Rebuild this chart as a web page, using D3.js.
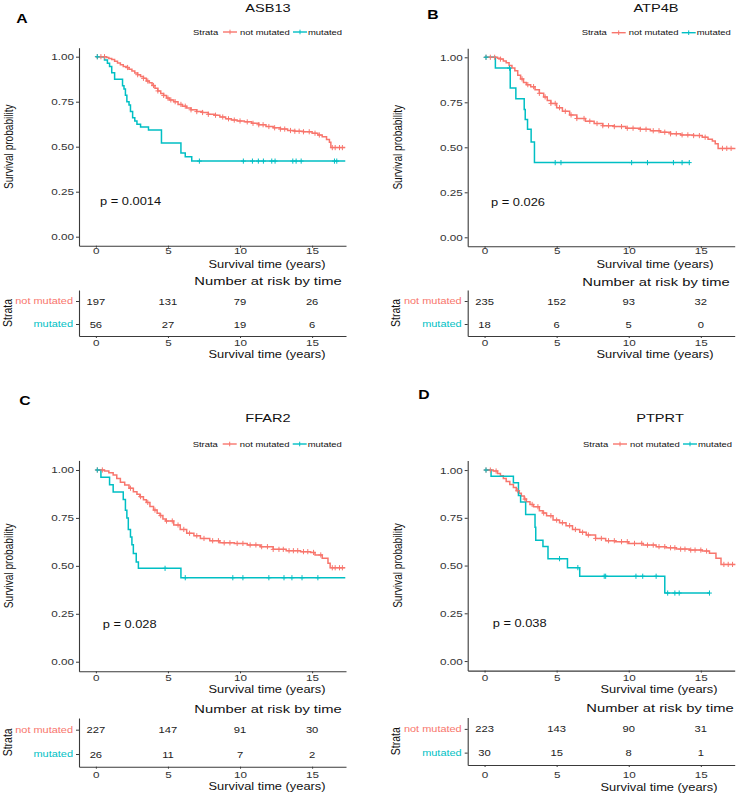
<!DOCTYPE html>
<html>
<head>
<meta charset="utf-8">
<script src="https://cdn.jsdelivr.net/npm/d3@7"></script>
<style>
  body { margin: 0; background: #fff; }
  text { font-family: "Liberation Sans", Arial, Helvetica, sans-serif; }
</style>
</head>
<body>
<div id="wrapper"></div>
<script>
// 1. Data

const genes = ["ASB13", "ATP4B", "FFAR2", "PTPRT"];
const letters = ["A", "B", "C", "D"];
const pValues = ["p = 0.0014", "p = 0.026", "p = 0.028", "p = 0.038"];
const strata = ["not mutated", "mutated"];
const xTicks = [0, 5, 10, 15];
const yTicks = [0, 0.25, 0.5, 0.75, 1];
const riskTimes = [0, 5, 10, 15];

// [time (years), survival probability] at each step, last point = end of follow-up
const asb13NotMut = [[0,1],[0.75,0.995],[0.9,0.99],[1.1,0.985],[1.3,0.975],[1.5,0.965],[1.7,0.955],[1.9,0.945],
  [2.1,0.94],[2.3,0.93],[2.5,0.92],[2.7,0.91],[2.9,0.9],[3.1,0.89],[3.3,0.88],[3.5,0.865],[3.7,0.855],[3.9,0.84],
  [4.1,0.825],[4.3,0.81],[4.5,0.795],[4.7,0.785],[4.9,0.77],[5.1,0.76],[5.4,0.75],[5.7,0.735],[6.0,0.725],[6.3,0.715],
  [6.6,0.705],[7.0,0.695],[7.4,0.69],[7.8,0.68],[8.2,0.675],[8.6,0.665],[9.0,0.655],[9.4,0.648],[9.8,0.643],[10.3,0.638],
  [10.8,0.63],[11.3,0.622],[11.8,0.612],[12.3,0.605],[12.8,0.598],[13.3,0.59],[13.8,0.586],[14.4,0.583],[15.0,0.575],
  [15.4,0.565],[15.7,0.555],[16.0,0.54],[16.2,0.525],[16.3,0.495],[17.3,0.495]];
const asb13Mut = [[0,1],[0.6,0.982],[0.8,0.964],[0.95,0.946],[1.1,0.911],[1.3,0.875],[1.85,0.839],[1.95,0.821],
  [2.05,0.786],[2.15,0.75],[2.3,0.732],[2.4,0.696],[2.55,0.661],[2.7,0.643],[2.85,0.625],[3.1,0.61],[3.65,0.593],
  [4.55,0.52],[5.9,0.465],[6.2,0.444],[6.65,0.42],[17.3,0.42]];
const asb13NotMutCens = [0.1,0.35,0.6,2.2,2.9,3.3,3.6,4.0,4.3,4.7,5.0,5.2,5.5,5.9,6.2,6.6,7.0,7.4,7.8,8.3,8.8,9.2,
  9.6,10.0,10.5,10.9,11.3,11.6,12.0,12.4,12.8,13.1,13.5,13.8,14.1,14.4,14.8,15.2,15.5,16.4,16.6,16.9,17.1];
const asb13MutCens = [0.1,7.18,10.23,10.86,11.27,11.62,12.2,12.43,13.66,13.89,14.24,16.55,16.71];

const atp4bNotMut = [[0,1],[0.9,0.995],[1.1,0.99],[1.3,0.98],[1.5,0.97],[1.7,0.955],[1.9,0.94],[2.1,0.925],[2.3,0.9],
  [2.5,0.88],[2.7,0.86],[2.9,0.848],[3.2,0.837],[3.5,0.82],[3.8,0.8],[4.1,0.78],[4.35,0.76],[4.6,0.744],[5.0,0.72],
  [5.4,0.7],[5.9,0.68],[6.4,0.66],[7.0,0.645],[7.6,0.632],[8.2,0.62],[9.0,0.615],[9.8,0.606],[10.8,0.6],[11.5,0.592],
  [12.2,0.584],[12.9,0.575],[13.6,0.569],[14.5,0.565],[15.1,0.556],[15.5,0.545],[15.8,0.535],[16.0,0.52],[16.2,0.494],
  [17.4,0.494]];
const atp4bMut = [[0,1],[0.75,0.94],[1.78,0.83],[2.17,0.77],[2.75,0.71],[2.82,0.655],[2.98,0.6],[3.23,0.53],
  [3.46,0.415],[14.2,0.415]];
const atp4bNotMutCens = [0.1,0.4,0.7,1.1,2.6,3.0,3.4,3.8,4.2,4.6,4.9,5.2,5.6,6.0,6.4,6.9,7.3,7.8,8.2,8.6,9.0,9.5,
  9.9,10.3,10.8,11.2,11.7,12.1,12.5,12.9,13.3,13.7,14.1,14.5,14.9,15.3,16.5,16.8,17.1];
const atp4bMutCens = [0.1,1.73,4.9,5.3,10.2,11.3,13.1,13.7,14.2];

const ffar2NotMut = [[0,1],[0.6,0.995],[0.9,0.985],[1.2,0.974],[1.45,0.955],[1.7,0.936],[2.0,0.922],[2.3,0.905],
  [2.6,0.887],[2.85,0.873],[3.05,0.861],[3.3,0.845],[3.5,0.831],[3.75,0.81],[4.0,0.791],[4.25,0.775],[4.45,0.762],
  [4.65,0.745],[4.85,0.734],[5.4,0.713],[5.85,0.69],[6.3,0.67],[6.8,0.657],[7.25,0.643],[7.9,0.631],[8.6,0.62],
  [9.6,0.617],[10.5,0.609],[11.4,0.6],[12.3,0.586],[13.2,0.579],[14.2,0.574],[14.9,0.57],[15.2,0.557],[15.7,0.539],
  [16.1,0.513],[16.25,0.49],[17.3,0.49]];
const ffar2Mut = [[0,1],[0.35,0.962],[0.95,0.923],[1.2,0.885],[1.9,0.846],[2.05,0.79],[2.15,0.75],[2.25,0.69],
  [2.4,0.65],[2.5,0.61],[2.6,0.565],[2.8,0.52],[2.95,0.487],[5.9,0.438],[17.3,0.438]];
const ffar2NotMutCens = [0.1,0.45,2.4,3.1,3.6,4.1,4.5,4.9,5.3,5.7,6.1,6.5,7.0,7.5,8.1,8.5,8.9,9.3,9.8,10.2,10.7,
  11.1,11.5,11.9,12.3,12.7,13.0,13.4,13.7,14.0,14.4,14.7,15.1,15.6,16.4,16.6,16.9,17.1];
const ffar2MutCens = [0.1,4.8,6.2,9.5,10.2,12.0,13.05,13.6,14.3,15.4];

const ptprtNotMut = [[0,1],[0.6,0.995],[0.9,0.982],[1.1,0.97],[1.3,0.956],[1.5,0.94],[1.75,0.925],[2.0,0.908],
  [2.2,0.892],[2.4,0.878],[2.55,0.864],[2.75,0.848],[2.9,0.834],[3.15,0.82],[3.4,0.808],[3.8,0.787],[4.05,0.775],
  [4.3,0.761],[4.75,0.738],[5.2,0.724],[5.65,0.709],[6.1,0.689],[6.6,0.674],[7.05,0.66],[7.7,0.642],[8.4,0.63],
  [9.1,0.625],[10.0,0.616],[11.0,0.607],[11.9,0.599],[12.6,0.593],[13.3,0.586],[14.2,0.581],[15.1,0.576],[15.6,0.564],
  [16.05,0.538],[16.4,0.506],[17.4,0.506]];
const ptprtMut = [[0,1],[0.45,0.967],[2.0,0.933],[2.35,0.867],[2.5,0.833],[2.85,0.767],[3.5,0.7],[3.55,0.633],
  [4.05,0.6],[4.4,0.536],[5.75,0.489],[6.6,0.444],[12.5,0.356],[15.6,0.356]];
const ptprtNotMutCens = [0.1,0.4,0.8,2.3,2.8,3.3,3.7,4.1,4.6,5.0,5.4,5.9,6.3,6.8,7.2,7.7,8.1,8.6,9.0,9.5,9.9,10.4,
  10.9,11.3,11.7,12.1,12.5,12.9,13.2,13.6,13.9,14.3,14.6,15.0,15.4,16.6,16.9,17.2];
const ptprtMutCens = [0.1,5.2,6.47,8.3,8.4,10.5,10.97,11.9,12.7,13.2,13.5,15.6];

const riskNotMut = [[197, 131, 79, 26], [235, 152, 93, 32], [227, 147, 91, 30], [223, 143, 90, 31]];
const riskMut = [[56, 27, 19, 6], [18, 6, 5, 0], [26, 11, 7, 2], [30, 15, 8, 1]];

const curvesNotMut = [asb13NotMut, atp4bNotMut, ffar2NotMut, ptprtNotMut];
const curvesMut = [asb13Mut, atp4bMut, ffar2Mut, ptprtMut];
const censNotMut = [asb13NotMutCens, atp4bNotMutCens, ffar2NotMutCens, ptprtNotMutCens];
const censMut = [asb13MutCens, atp4bMutCens, ffar2MutCens, ptprtMutCens];

// 2. Dimensions / layout of each panel

const SX = 1.26; // the figure is stretched horizontally
const FONT = '"Liberation Sans", Arial, Helvetica, sans-serif';
const RED = "#F8766D", TEAL = "#00BFC4";
const colors = [RED, TEAL];
const plotWidth = 267;
const xDomain = [-1.17, 17.35];

const layouts = [
  { axisX: 79, letter: [22, 19], center: 268, titleY: 8, legX: 193, legY: 32, top: 47.7, bottom: 245.7,
    xTickY: 250.5, xTitleY: 264, riskTitleY: 281, tabTop: 290, tabAxis: 336, tabTickY: 343, tabTitleY: 354, pX: 100 },
  { axisX: 467.7, letter: [433, 15], center: 656, titleY: 8.3, legX: 581.7, legY: 32.7, top: 48.3, bottom: 246.3,
    xTickY: 251, xTitleY: 264, riskTitleY: 281.7, tabTop: 290, tabAxis: 336, tabTickY: 343, tabTitleY: 354.3, pX: 491 },
  { axisX: 79, letter: [25, 400.7], center: 268, titleY: 418.3, legX: 192.7, legY: 444, top: 460.4, bottom: 671.3,
    xTickY: 677.8, xTitleY: 689, riskTitleY: 709, tabTop: 718, tabAxis: 766.7, tabTickY: 775, tabTitleY: 786.7, pX: 102.7 },
  { axisX: 467.7, letter: [424, 395], center: 660, titleY: 417.7, legX: 583, legY: 444, top: 460.5, bottom: 670.6,
    xTickY: 677.5, xTitleY: 689, riskTitleY: 708.3, tabTop: 717.5, tabAxis: 765, tabTickY: 775, tabTitleY: 787, pX: 492.7 },
];

// 3. Draw canvas

const wrapper = d3.select("#wrapper")
  .append("svg")
  .attr("width", 740)
  .attr("height", 794)
  .style("background", "#fff");

const label = (g, x, y, str, size, anchor, fill, weight) => g.append("text")
  .attr("transform", `translate(${x},${y}) scale(${SX},1)`)
  .attr("text-anchor", anchor || "middle")
  .attr("dy", "0.35em")
  .attr("fill", fill || "#111")
  .attr("font-weight", weight || "normal")
  .style("font-size", size + "px")
  .text(str);

const vlabel = (g, x, y, str, size) => g.append("text")
  .attr("transform", `translate(${x},${y}) rotate(-90) scale(1,${SX})`)
  .attr("text-anchor", "middle")
  .attr("dy", "0.35em")
  .attr("fill", "#111")
  .style("font-size", size + "px")
  .text(str);

const styleAxis = sel => {
  sel.attr("font-family", FONT).attr("font-size", 9.3);
  sel.select(".domain").attr("stroke", "#3a3a3a").attr("stroke-width", 1.1);
  sel.selectAll(".tick line").attr("stroke", "#3a3a3a");
};

const survAt = (curve, t) => {
  let s = curve[0][1];
  curve.forEach(d => { if (d[0] <= t) s = d[1]; });
  return s;
};

const drawPanel = (i) => {
  const L = layouts[i];
  const g = wrapper.append("g");

  // 4. Scales
  const x = d3.scaleLinear().domain(xDomain).range([L.axisX, L.axisX + plotWidth]);
  const y = d3.scaleLinear().domain([-0.05, 1.05]).range([L.bottom, L.top]);
  const yTab = d3.scaleBand().domain(strata).range([L.tabTop, L.tabAxis]);

  // headings
  label(g, L.letter[0], L.letter[1], letters[i], 12.5, "middle", "#000", "bold");
  label(g, L.center, L.titleY, genes[i], 11.6);

  // legend
  const leg = g.append("g").attr("transform", `translate(${L.legX},${L.legY})`);
  label(leg, 0, 0, "Strata", 7.5, "start");
  const keyX = [30, 100], textX = [47, 115];
  strata.forEach((s, k) => {
    leg.append("line").attr("x1", keyX[k]).attr("x2", keyX[k] + 14).attr("y1", 0).attr("y2", 0)
      .attr("stroke", colors[k]).attr("stroke-width", 1.4);
    leg.append("line").attr("x1", keyX[k] + 7).attr("x2", keyX[k] + 7).attr("y1", -2.3).attr("y2", 2.3)
      .attr("stroke", colors[k]).attr("stroke-width", 1);
    label(leg, textX[k], 0, s, 7.5, "start");
  });

  // 6. Peripherals: axes
  const yAxis = d3.axisLeft(y).tickValues(yTicks).tickFormat(d3.format(".2f"))
    .tickSize(3).tickSizeOuter(0);
  g.append("g").attr("transform", `translate(${L.axisX},0)`).call(yAxis).call(styleAxis)
    .call(s => s.selectAll("text").attr("x", -5 / SX).attr("transform", `scale(${SX},1)`).attr("fill", "#333"));

  const xAxis = d3.axisBottom(x).tickValues(xTicks).tickSize(2).tickSizeOuter(0);
  g.append("g").attr("transform", `translate(0,${L.bottom})`).call(xAxis).call(styleAxis)
    .call(s => s.selectAll("text").attr("y", L.xTickY - L.bottom).attr("dy", "0.35em")
      .attr("transform", `scale(${SX},1)`).attr("fill", "#333"));

  label(g, L.center - 1, L.xTitleY, "Survival time (years)", 10.2);
  vlabel(g, L.axisX - 70, (L.top + L.bottom) / 2, "Survival probability", 10.1);

  // 5. Survival curves
  const lineGenerator = d3.line()
    .x(d => x(d[0]))
    .y(d => y(d[1]))
    .curve(d3.curveStepAfter);

  [curvesNotMut[i], curvesMut[i]].forEach((curve, k) => {
    g.append("path").datum(curve)
      .attr("d", lineGenerator)
      .attr("fill", "none")
      .attr("stroke", colors[k])
      .attr("stroke-width", 1.5);
  });

  [censNotMut[i], censMut[i]].forEach((cens, k) => {
    const curve = k === 0 ? curvesNotMut[i] : curvesMut[i];
    const marks = g.append("g").attr("stroke", colors[k]).attr("stroke-width", 1);
    cens.forEach(t => {
      const cx = x(t), cy = y(survAt(curve, t));
      marks.append("line").attr("x1", cx).attr("x2", cx).attr("y1", cy - 2.6).attr("y2", cy + 2.6);
      marks.append("line").attr("x1", cx - 2.4).attr("x2", cx + 2.4).attr("y1", cy).attr("y2", cy);
    });
  });

  label(g, L.pX, y(0.195), pValues[i], 10.2, "start");

  // risk table
  label(g, L.center, L.riskTitleY, "Number at risk by time", 11.7);

  const tabY = d3.axisLeft(yTab).tickSize(3).tickSizeOuter(0);
  g.append("g").attr("transform", `translate(${L.axisX},0)`).call(tabY).call(styleAxis)
    .call(s => s.selectAll("text").attr("x", -6 / SX).attr("transform", `scale(${SX},1)`)
      .attr("font-size", 8.7).attr("fill", d => d === strata[0] ? RED : TEAL));

  const tabX = d3.axisBottom(x).tickValues(xTicks).tickSize(2).tickSizeOuter(0);
  g.append("g").attr("transform", `translate(0,${L.tabAxis})`).call(tabX).call(styleAxis)
    .call(s => s.selectAll("text").attr("y", L.tabTickY - L.tabAxis).attr("dy", "0.35em")
      .attr("transform", `scale(${SX},1)`).attr("fill", "#333"));

  [riskNotMut[i], riskMut[i]].forEach((row, k) => {
    const ry = yTab(strata[k]) + yTab.bandwidth() / 2;
    row.forEach((n, j) => label(g, x(riskTimes[j]), ry, n, 8.9, "middle", "#222"));
  });

  vlabel(g, L.axisX - 72, (L.tabTop + L.tabAxis) / 2, "Strata", 10.5);
  label(g, L.center - 1, L.tabTitleY, "Survival time (years)", 10.2);
};

genes.forEach((gene, i) => drawPanel(i));
</script>
</body>
</html>
